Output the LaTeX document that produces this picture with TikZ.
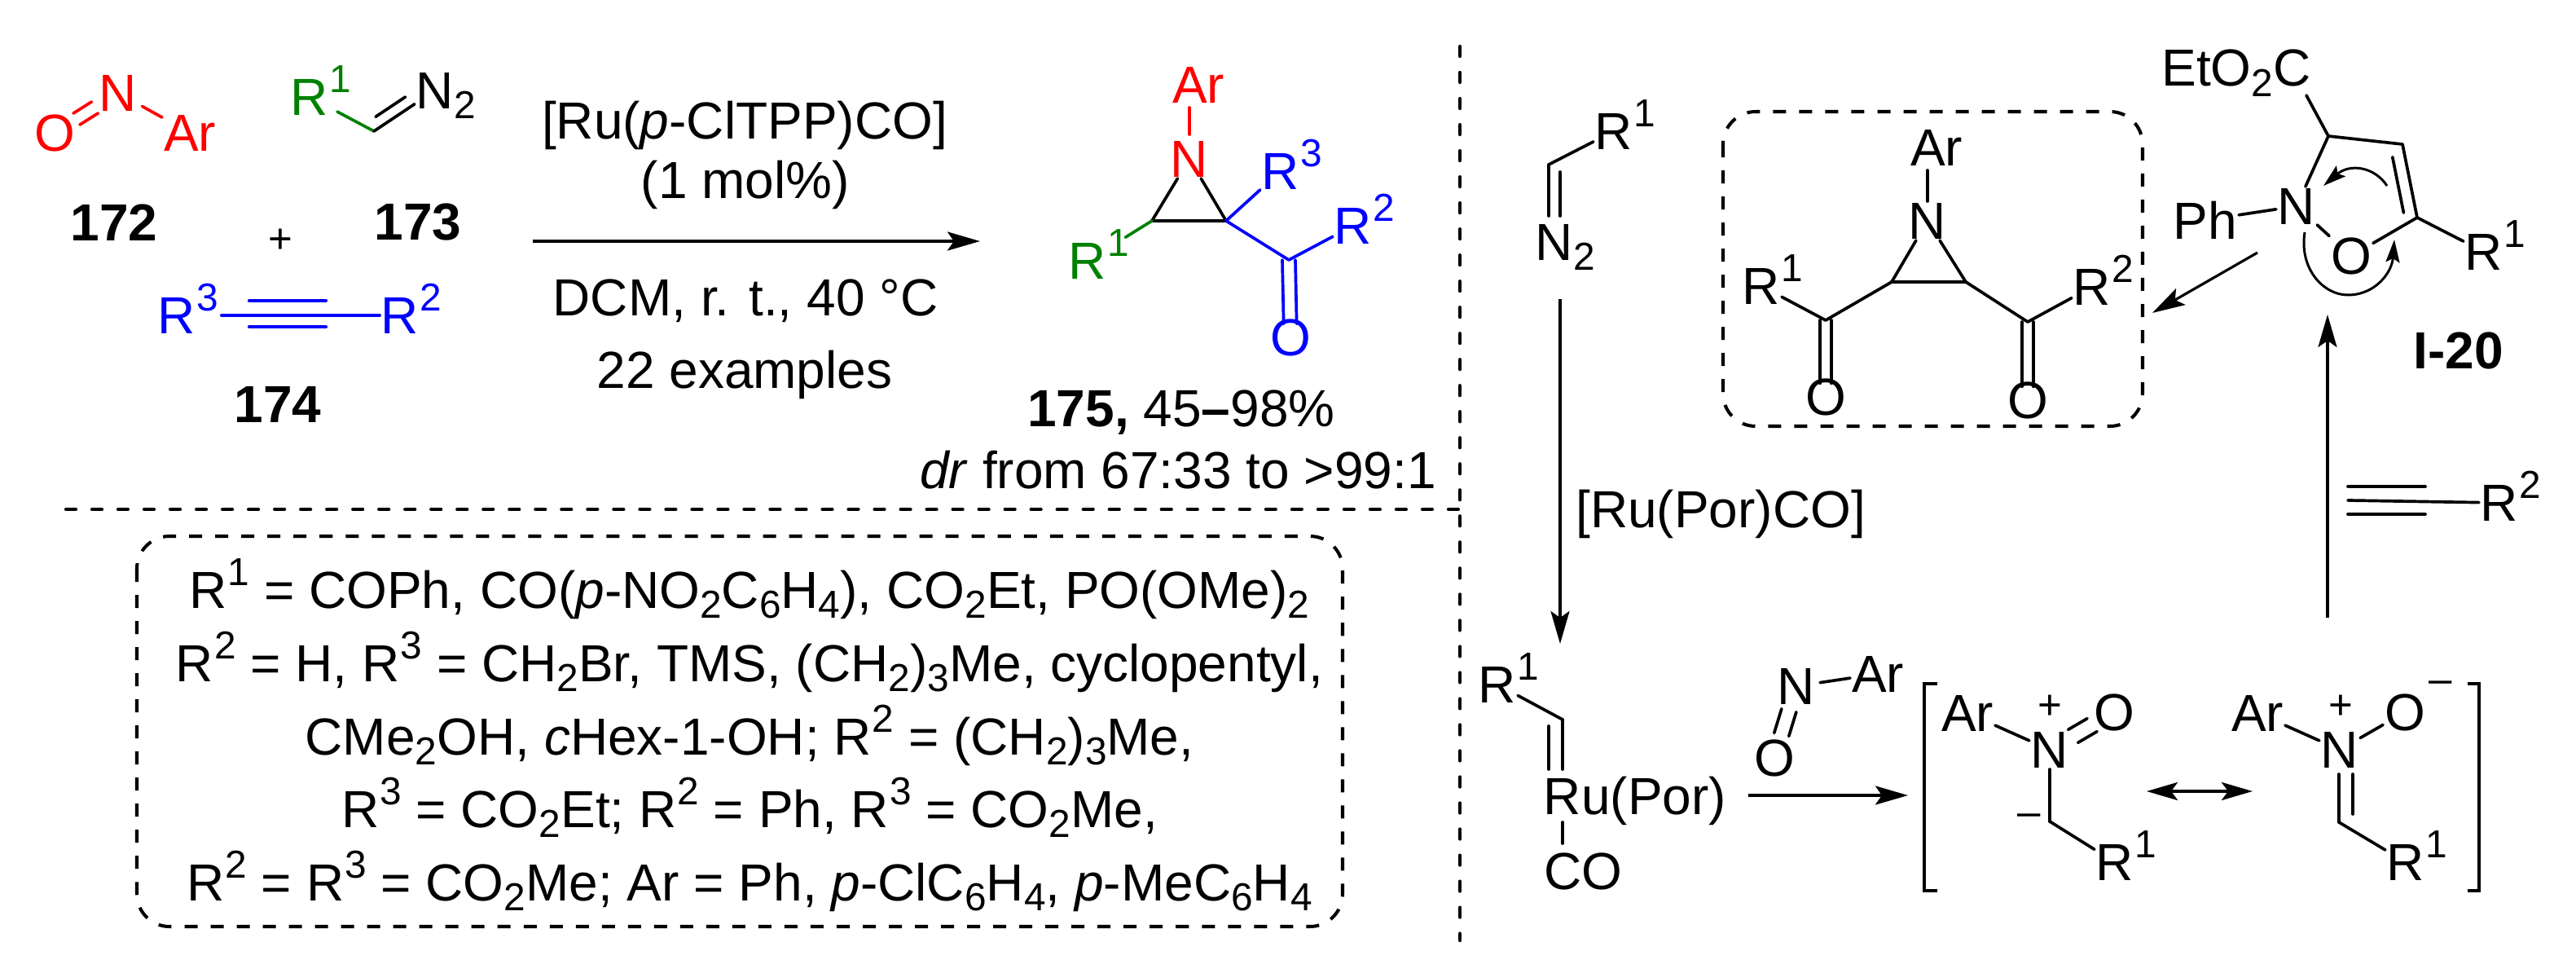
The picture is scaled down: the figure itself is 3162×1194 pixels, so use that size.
\documentclass[tikz,border=0pt]{standalone}
\usepackage{fontspec}
\setmainfont{Liberation Sans}
\usetikzlibrary{arrows.meta,calc}
\newcommand\myup[1]{\raisebox{.43em}{\fontsize{13.6}{15}\selectfont\kern.02em #1}}
\newcommand\mydn[1]{\raisebox{-.2em}{\fontsize{13.6}{15}\selectfont #1}}
\newcommand\Myup[1]{\rlap{\smash{\myup{#1}}}}
\newcommand\Mydn[1]{\rlap{\smash{\mydn{#1}}}}
\definecolor{cgreen}{RGB}{0,128,0}
\definecolor{cred}{RGB}{255,0,0}
\definecolor{cblue}{RGB}{0,0,255}
\tikzset{
  txt/.style={inner sep=0pt,outer sep=0pt,font=\fontsize{18.2}{21}\selectfont,anchor=base,align=center},
  atom/.style={inner sep=0.02cm,outer sep=0pt,font=\fontsize{18.2}{21}\selectfont,anchor=center},
  lab/.style={inner sep=0pt,outer sep=0pt,font=\fontsize{18.2}{21}\selectfont\bfseries,anchor=center},
  bond/.style={line width=1.05pt,line cap=round},
  rxn/.style={line width=1.05pt,-{Stealth[length=0.4cm,width=0.23cm,inset=0.08cm]}},
  rxnthin/.style={line width=0.9pt,-{Stealth[length=0.4cm,width=0.23cm,inset=0.08cm]}},
  both/.style={line width=1.05pt,{Stealth[length=0.38cm,width=0.22cm,inset=0.08cm]}-{Stealth[length=0.38cm,width=0.22cm,inset=0.08cm]}},
  curly/.style={line width=0.85pt,-{Stealth[length=0.28cm,width=0.17cm,inset=0.05cm]}},
  divider/.style={line width=1.2pt,line cap=round,dash pattern=on 0.12cm off 0.2cm},
  dbox/.style={line width=1.15pt,dash pattern=on 0.16cm off 0.16cm,rounded corners=0.4cm},
  brk/.style={line width=1.05pt},
  chg/.style={inner sep=0pt,font=\fontsize{14.5}{16}\selectfont},
}
\begin{document}
\begin{tikzpicture}[x=0.01cm,y=-0.01cm]
\path[use as bounding box] (0,0) rectangle (3162,1194);
% dividers
\coordinate (hdA) at (81,625); \coordinate (hdB) at (1793,625);
\coordinate (vdA) at (1792,57); \coordinate (vdB) at (1792,1154);
\draw[divider] (hdA) -- (hdB);
\draw[divider] (vdA) -- (vdB);
% 172
\node[atom,cred] (o172) at (67,163) {O};
\node[atom,cred] (n172) at (145,114) {N};
\node[atom,cred] (ar172) at (233,163) {Ar};
\draw[bond,cred,transform canvas={shift={(-4,-7)}},shorten >=0.04cm] (o172) -- (n172);
\draw[bond,cred,transform canvas={shift={(4,7)}},shorten >=0.04cm] (o172) -- (n172);
\draw[bond,cred,shorten <=0.05cm] (n172) -- (ar172);
\node[lab] (l172) at (140,273) {172};
% 173
\node[atom,cgreen] (r173) at (380,119) {R\Myup{1}};
\node[atom] (n173) at (534,111) {N\Mydn{2}};
\coordinate (c173) at (459,161);
\draw[bond,cgreen,shorten <=0.1cm] (r173) -- (c173);
\draw[bond] (c173) -- (n173);
\draw[bond,transform canvas={shift={(-8,-11)}},shorten <=0.12cm,shorten >=0.04cm] (c173) -- (n173);
\node[lab] (l173) at (513,273) {173};
% plus
\node[chg] (plus) at (344,296) {+};
% 174
\node[atom,cblue] (r3a) at (217,387) {R\Myup{3}};
\node[atom,cblue] (r2a) at (491,387) {R\Myup{2}};
\draw[bond,cblue,line width=1.2pt,shorten <=0.3cm] (r3a) -- (r2a);
\coordinate (tA) at (306,385); \coordinate (tB) at (400,385);
\draw[bond,cblue,line width=1.2pt,transform canvas={shift={(0,-16)}}] (tA) -- (tB);
\draw[bond,cblue,line width=1.2pt,transform canvas={shift={(0,16)}}] (tA) -- (tB);
\node[lab] (l174) at (341,496) {174};
% reaction
\coordinate (ra1) at (654,296); \coordinate (ra2) at (1203,296);
\draw[rxn] (ra1) -- (ra2);
\node[txt] (t1) at (914,171) {[Ru(\textit{p}-ClTPP)CO]};
\node[txt] (t2) at (915,244) {(1 mol\%)};
\node[txt] (t3) at (915,388) {DCM, r. t., 40 °C};
\node[txt] (t4) at (914,476) {22 examples};
% 175
\node[atom,cred] (ar175) at (1471,104) {Ar};
\node[atom,cred] (n175) at (1460,195) {N};
\coordinate (a175) at (1414,271);
\coordinate (b175) at (1505,271);
\coordinate (c175) at (1582,319);
\node[atom,cgreen] (r1b) at (1335,320) {R\Myup{1}};
\node[atom,cblue] (r3b) at (1572,210) {R\Myup{3}};
\node[atom,cblue] (r2b) at (1661,277) {R\Myup{2}};
\node[atom,cblue] (o175) at (1584,414) {O};
\draw[bond,cred,shorten <=0.06cm,shorten >=0.04cm] (n175.north) -- (n175.north |- ar175.south);
\draw[bond] (n175) -- (a175);
\draw[bond] (n175) -- (b175);
\draw[bond] (a175) -- (b175);
\draw[bond,cgreen,shorten >=0.25cm] (a175) -- (r1b);
\draw[bond,cblue] (b175) -- (r3b);
\draw[bond,cblue] (b175) -- (c175);
\draw[bond,cblue] (c175) -- (r2b);
\draw[bond,cblue,transform canvas={shift={(-8,0)}},shorten >=-0.08cm] (c175) -- (o175);
\draw[bond,cblue,transform canvas={shift={(8,0)}},shorten >=-0.08cm] (c175) -- (o175);
\node[txt] (t5) at (1450,524) {{\bfseries 175,} 45{\bfseries –}98\%};
\node[txt] (t6) at (1446,599) {\textit{dr} from 67:33 to >99:1};
% conditions box
\coordinate (bxA) at (168,658); \coordinate (bxB) at (1648,1137);
\draw[dbox] (bxA) rectangle (bxB);
\node[txt] (c1) at (920,746) {R\myup{1} = COPh, CO(\textit{p}-NO\mydn{2}C\mydn{6}H\mydn{4}), CO\mydn{2}Et, PO(OMe)\mydn{2}};
\node[txt] (c2) at (920,836) {R\myup{2} = H, R\myup{3} = CH\mydn{2}Br, TMS, (CH\mydn{2})\mydn{3}Me, cyclopentyl,};
\node[txt] (c3) at (920,926) {CMe\mydn{2}OH, \textit{c}Hex-1-OH; R\myup{2} = (CH\mydn{2})\mydn{3}Me,};
\node[txt] (c4) at (920,1015) {R\myup{3} = CO\mydn{2}Et; R\myup{2} = Ph, R\myup{3} = CO\mydn{2}Me,};
\node[txt] (c5) at (920,1105) {R\myup{2} = R\myup{3} = CO\mydn{2}Me; Ar = Ph, \textit{p}-ClC\mydn{6}H\mydn{4}, \textit{p}-MeC\mydn{6}H\mydn{4}};
% diazo right
\node[atom] (r1c) at (1981,161) {R\Myup{1}};
\node[atom] (n2c) at (1908,297) {N\Mydn{2}};
\coordinate (vc) at (1901,202); \coordinate (vcE) at (1901,265);
\draw[bond] (vc) -- (r1c);
\draw[bond] (vc) -- (vcE);
\draw[bond,transform canvas={shift={(14,0)}},shorten <=0.09cm] (vc) -- (vcE);
\coordinate (a1s) at (1915,367); \coordinate (a1e) at (1915,790);
\draw[rxnthin] (a1s) -- (a1e);
\node[txt] (rucat) at (2112,647) {[Ru(Por)CO]};
% aziridine in box
\coordinate (bzA) at (2115,137); \coordinate (bzB) at (2630,523);
\draw[dbox] (bzA) rectangle (bzB);
\node[atom] (arz) at (2377,181) {Ar};
\node[atom] (nz) at (2366,271) {N};
\coordinate (az) at (2322,346); \coordinate (bz) at (2413,346);
\coordinate (c1z) at (2241,393); \coordinate (c2z) at (2489,395);
\node[atom] (r1z) at (2162,351) {R\Myup{1}};
\node[atom] (r2z) at (2568,352) {R\Myup{2}};
\node[atom] (o1z) at (2241,487) {O};
\node[atom] (o2z) at (2489,491) {O};
\draw[bond,shorten >=0.04cm] (nz.north) -- (nz.north |- arz.south);
\draw[bond] (nz) -- (az);
\draw[bond] (nz) -- (bz);
\draw[bond] (az) -- (bz);
\draw[bond] (az) -- (c1z);
\draw[bond] (bz) -- (c2z);
\draw[bond] (c1z) -- (r1z);
\draw[bond] (c2z) -- (r2z);
\draw[bond,transform canvas={shift={(-7,0)}},shorten >=-0.08cm] (c1z) -- (o1z);
\draw[bond,transform canvas={shift={(7,0)}},shorten >=-0.08cm] (c1z) -- (o1z);
\draw[bond,transform canvas={shift={(-7,0)}},shorten >=-0.08cm] (c2z) -- (o2z);
\draw[bond,transform canvas={shift={(7,0)}},shorten >=-0.08cm] (c2z) -- (o2z);
% isoxazoline
\node[atom] (eto) at (2745,90) {EtO\mydn{2}C};
\coordinate (c3i) at (2858,167); \coordinate (c4i) at (2949,177); \coordinate (c5i) at (2967,267);
\coordinate (etoE) at (2831,117);
\node[atom] (ni) at (2819,253) {N};
\node[atom] (oi) at (2886,314) {O};
\node[atom] (r1i) at (3049,309) {R\Myup{1}};
\node[atom] (phi) at (2707,270) {Ph};
\draw[bond] (etoE) -- (c3i);
\draw[bond] (c3i) -- (ni);
\draw[bond] (ni) -- (oi);
\draw[bond] (oi) -- (c5i);
\draw[bond] (c5i) -- (r1i);
\draw[bond] (phi) -- (ni);
\draw[bond] (c3i) -- (c4i);
\draw[bond] (c4i) -- (c5i);
\draw[bond,transform canvas={shift={(-15,2)}},shorten <=0.14cm,shorten >=0.08cm] (c4i) -- (c5i);
\coordinate (cu1a) at (2930,228); \coordinate (cu1b) at (2852,228);
\draw[curly] (cu1a) .. controls (2915,205) and (2885,200) .. (cu1b);
\coordinate (cu2a) at (2829,285); \coordinate (cu2m) at (2882,362); \coordinate (cu2b) at (2939,294);
\draw[curly] (cu2a) .. controls (2822,330) and (2852,362) .. (cu2m) .. controls (2915,362) and (2936,335) .. (cu2b);
\coordinate (saA) at (2771,310); \coordinate (saB) at (2642,384);
\draw[rxnthin] (saA) -- (saB);
\node[lab] (li20) at (3018,430) {I-20};
\coordinate (upA) at (2857,758); \coordinate (upB) at (2857,386);
\draw[rxnthin] (upA) -- (upB);
% alkyne right
\node[atom] (r2k) at (3068,617) {R\Myup{2}};
\coordinate (kA) at (2882,614); \coordinate (kB) at (2977,614);
\draw[bond] (kA) -- (r2k);
\draw[bond,transform canvas={shift={(0,-17)}}] (kA) -- (kB);
\draw[bond,transform canvas={shift={(0,17)}}] (kA) -- (kB);
% carbene
\node[atom] (r1ca) at (1838,840) {R\Myup{1}};
\coordinate (cb) at (1918,883); \coordinate (ruT) at (1918,944); \coordinate (ruB) at (1918,1009); \coordinate (coT) at (1918,1035);
\node[txt] (ru) at (2007,999) {Ru(Por)};
\node[atom] (coc) at (1943,1069) {CO};
\draw[bond] (cb) -- (r1ca);
\draw[bond] (cb) -- (ruT);
\draw[bond,transform canvas={shift={(-17,0)}},shorten <=0.08cm] (cb) -- (ruT);
\draw[bond] (ruB) -- (coT);
% nitroso
\node[atom] (nn) at (2205,842) {N};
\node[atom] (arn) at (2305,827) {Ar};
\node[atom] (on) at (2178,930) {O};
\draw[bond,shorten <=0.04cm] (nn) -- (arn);
\draw[bond,transform canvas={shift={(-9,-2)}},shorten <=0.06cm,shorten >=0.04cm] (nn) -- (on);
\draw[bond,transform canvas={shift={(9,2)}},shorten <=0.06cm,shorten >=0.04cm] (nn) -- (on);
\coordinate (raA) at (2146,976); \coordinate (raB) at (2342,976);
\draw[rxn] (raA) -- (raB);
% brackets
\coordinate (bl1) at (2378,839); \coordinate (bl2) at (2362,839); \coordinate (bl3) at (2362,1093); \coordinate (bl4) at (2378,1093);
\draw[brk] (bl1) -- (bl2) -- (bl3) -- (bl4);
\coordinate (br1) at (3029,839); \coordinate (br2) at (3043,839); \coordinate (br3) at (3043,1093); \coordinate (br4) at (3029,1093);
\draw[brk] (br1) -- (br2) -- (br3) -- (br4);
% left resonance
\node[atom] (arl) at (2415,875) {Ar};
\node[atom] (nl) at (2516,920) {N};
\node[atom] (ol) at (2595,874) {O};
\node[atom] (r1l) at (2596,1058) {R\Myup{1}};
\node[chg] (pl) at (2516,868) {+};
\node[chg] (ml) at (2491,1006) {–};
\coordinate (cl) at (2516,1008);
\draw[bond] (arl) -- (nl);
\draw[bond,transform canvas={shift={(-6,-8)}},shorten <=0.04cm] (nl) -- (ol);
\draw[bond,transform canvas={shift={(6,8)}},shorten <=0.04cm] (nl) -- (ol);
\draw[bond] (nl) -- (cl);
\draw[bond] (cl) -- (r1l);
\coordinate (daA) at (2635,971); \coordinate (daB) at (2765,971);
\draw[both] (daA) -- (daB);
% right resonance
\node[atom] (arr) at (2771,875) {Ar};
\node[atom] (nr) at (2872,920) {N};
\node[atom] (or) at (2952,874) {O};
\node[atom] (r1r) at (2953,1058) {R\Myup{1}};
\node[chg] (pr) at (2873,868) {+};
\node[chg] (mr) at (2996,843) {–};
\coordinate (cr) at (2871,1009);
\coordinate (nrE) at (2871,950);
\draw[bond] (arr) -- (nr);
\draw[bond] (nr) -- (or);
\draw[bond] (nrE) -- (cr);
\draw[bond,transform canvas={shift={(17,0)}},shorten >=0.1cm] (nrE) -- (cr);
\draw[bond] (cr) -- (r1r);
\end{tikzpicture}
\end{document}
